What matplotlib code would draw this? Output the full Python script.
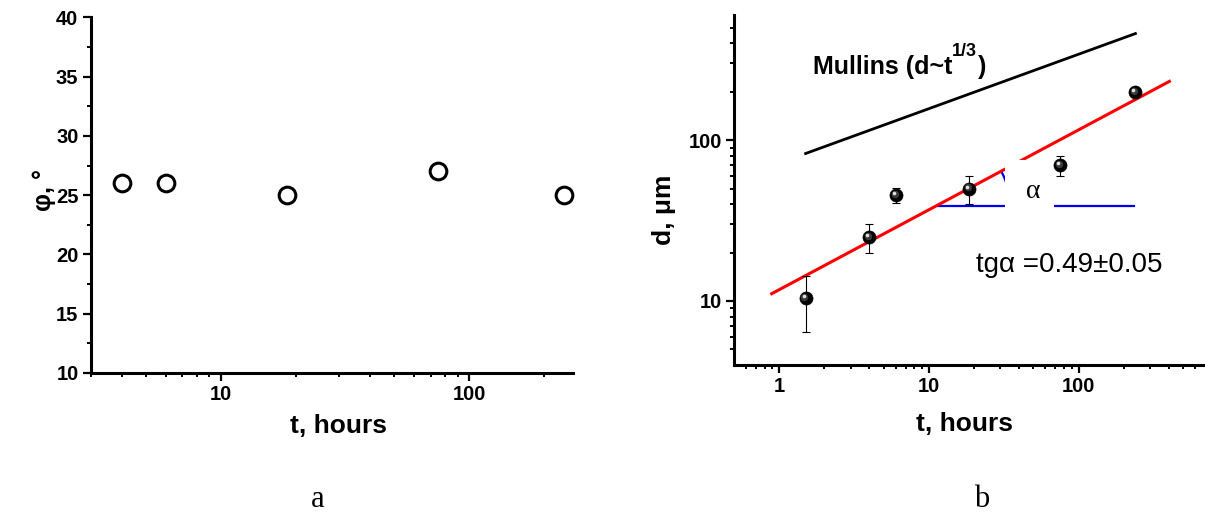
import numpy as np
import matplotlib
matplotlib.use("Agg")
import matplotlib.pyplot as plt
from matplotlib.ticker import FixedLocator, NullFormatter, FixedFormatter
from matplotlib.patches import Rectangle
from matplotlib.transforms import offset_copy

plt.rcParams['font.family'] = ['Liberation Sans', 'DejaVu Sans']

# ---------------- data: panel a ----------------
a_t = [4, 6, 18.5, 75, 240]
a_phi = [26, 26, 25, 27, 25]
a_yticks = [10, 15, 20, 25, 30, 35, 40]
a_yminor = [12.5, 17.5, 22.5, 27.5, 32.5, 37.5]
a_xticks = [10, 100]
a_xminor = [3, 4, 5, 6, 7, 8, 9, 20, 30, 40, 50, 60, 70, 80, 90, 200]

# ---------------- data: panel b ----------------
b_t = [1.5, 4, 6, 18.5, 75, 240]
b_d = [10.4, 25, 45.5, 50, 70, 200]
b_err = [4, 5, 5, 10, 10, 0]
fit_t = [0.89, 405]
fit_d = [11.1, 232]
mullins_t = [1.5, 240]
mullins_d = [82.6, 460]
slope_t = [11.5, 235]
slope_d = [39.1, 39.1]
box_t = [32.2, 68.4]
box_d = [35.7, 75.2]
b_xticks = [1, 10, 100]
b_xminor = [0.6, 0.7, 0.8, 0.9, 2, 3, 4, 5, 6, 7, 8, 9,
            20, 30, 40, 50, 60, 70, 80, 90, 200, 300, 400, 500, 600]
b_yticks = [10, 100]
b_yminor = [5, 6, 7, 8, 9, 20, 30, 40, 50, 60, 70, 80, 90, 200, 300, 400, 500]

W, H = 1205, 513
fig = plt.figure(figsize=(W / 100, H / 100), dpi=100)


def px_axes(l, t, r, b):
    return fig.add_axes([l / W, 1 - b / H, (r - l) / W, (b - t) / H])


def style(ax):
    for s in ['top', 'right']:
        ax.spines[s].set_visible(False)
    for s in ['left', 'bottom']:
        ax.spines[s].set_linewidth(2.2)
    ax.tick_params(which='major', direction='out', length=5.5, width=1.6,
                   labelsize=14.5, pad=3.5)
    ax.tick_params(which='minor', direction='out', length=3, width=1.4)
    for lab in ax.get_xticklabels() + ax.get_yticklabels():
        lab.set_fontweight('bold')


# ---------------- panel a ----------------
axa = px_axes(91, 17.3, 572.7, 373)
axa.plot(a_t, a_phi, 'o', ms=12, mfc='none', mec='black', mew=2.2, clip_on=False)
axa.set_xscale('log')
axa.set_xlim(3, 261)
axa.set_ylim(10, 40)
axa.xaxis.set_major_locator(FixedLocator(a_xticks))
axa.xaxis.set_major_formatter(FixedFormatter([str(v) for v in a_xticks]))
axa.xaxis.set_minor_locator(FixedLocator(a_xminor))
axa.xaxis.set_minor_formatter(NullFormatter())
axa.yaxis.set_major_locator(FixedLocator(a_yticks))
axa.yaxis.set_major_formatter(FixedFormatter([str(v) for v in a_yticks]))
axa.yaxis.set_minor_locator(FixedLocator(a_yminor))
style(axa)
axa.set_xlabel('t, hours', fontsize=19, fontweight='bold')
axa.xaxis.set_label_coords(0.513, -0.115)
axa.set_ylabel('φ, °', fontsize=18, fontweight='bold')
axa.yaxis.set_label_coords(-0.072, 0.514)

# ---------------- panel b ----------------
axb = px_axes(734.2, 15, 1205, 365)
axb.set_xscale('log')
axb.set_yscale('log')
axb.set_xlim(0.5, 700)
axb.set_ylim(4, 600)

axb.plot(mullins_t, mullins_d, color='black', lw=2.0, zorder=2)
axb.plot(fit_t, fit_d, color='red', lw=2.2, zorder=3)
axb.plot(slope_t, slope_d, color='#0000ee', lw=1.6, zorder=2.5)

# angle arc
pxdx = (1205 - 734.2) / np.log10(700 / 0.5)
pxdy = 350 / np.log10(600 / 4)
r_px = 72
ang = np.arctan2((np.log10(fit_d[1]) - np.log10(fit_d[0])) * pxdy,
                 (np.log10(fit_t[1]) - np.log10(fit_t[0])) * pxdx)
theta = np.linspace(0, ang, 60)
arc_t = 10 ** (np.log10(slope_t[0]) + r_px * np.cos(theta) / pxdx)
arc_d = 10 ** (np.log10(slope_d[0]) + r_px * np.sin(theta) / pxdy)
axb.plot(arc_t, arc_d, color='#0000ee', lw=1.6, zorder=2.5)

axb.add_patch(Rectangle((box_t[0], box_d[0]), box_t[1] - box_t[0],
                        box_d[1] - box_d[0], fc='white', ec='none', zorder=4))
axb.text(50, 48, 'α', family=['Liberation Serif', 'DejaVu Serif'], fontsize=20,
         ha='center', va='center', zorder=7)

mask = [e > 0 for e in b_err]
axb.errorbar([t for t, m in zip(b_t, mask) if m], [d for d, m in zip(b_d, mask) if m],
             yerr=[e for e, m in zip(b_err, mask) if m], fmt='none', ecolor='black',
             elinewidth=0.8, capsize=2.6, capthick=0.8, zorder=5)
axb.plot(b_t, b_d, 'o', ms=9.4, mfc='black', mec='black', mew=0.5, zorder=6)
axb.plot(b_t, b_d, 'o', ms=5.4, mfc='#3a3a3a', mec='none', zorder=6.2,
         transform=offset_copy(axb.transData, fig=fig, x=-0.8, y=0.8, units='points'))
axb.plot(b_t, b_d, 'o', ms=2.6, mfc='#e0e0e0', mec='none', zorder=6.4,
         transform=offset_copy(axb.transData, fig=fig, x=-1.4, y=1.4, units='points'))

axb.text(20.6, 15.1, 'tgα =0.49±0.05', fontsize=20, va='baseline')

# Mullins label with raised superscript
t1 = axb.text(1.67, 259, 'Mullins (d~t', fontsize=18, fontweight='bold',
              va='baseline')
t2 = axb.annotate('1/3', xy=(1, 1), xycoords=t1, xytext=(0.3, -4.0),
                  textcoords='offset points', fontsize=13, fontweight='bold',
                  ha='left', va='bottom')
axb.annotate(')', xy=(1, 0), xycoords=(t2, t1), xytext=(0.3, 0),
             textcoords='offset points', fontsize=18, fontweight='bold',
             ha='left', va='bottom')

axb.xaxis.set_major_locator(FixedLocator(b_xticks))
axb.xaxis.set_major_formatter(FixedFormatter([str(v) for v in b_xticks]))
axb.xaxis.set_minor_locator(FixedLocator(b_xminor))
axb.xaxis.set_minor_formatter(NullFormatter())
axb.yaxis.set_major_locator(FixedLocator(b_yticks))
axb.yaxis.set_major_formatter(FixedFormatter([str(v) for v in b_yticks]))
axb.yaxis.set_minor_locator(FixedLocator(b_yminor))
axb.yaxis.set_minor_formatter(NullFormatter())
style(axb)
axb.set_xlabel('t, hours', fontsize=19, fontweight='bold')
axb.xaxis.set_label_coords(0.49, -0.134)
axb.set_ylabel('d, μm', fontsize=19, fontweight='bold')
axb.yaxis.set_label_coords(-0.124, 0.443)

# panel letters
fig.text(318 / W, 1 - 507 / H, 'a', family=['Liberation Serif', 'DejaVu Serif'],
         fontsize=22, ha='center', va='baseline')
fig.text(982 / W, 1 - 507 / H, 'b', family=['Liberation Serif', 'DejaVu Serif'],
         fontsize=22, ha='center', va='baseline')

fig.savefig('out.png', dpi=100)
